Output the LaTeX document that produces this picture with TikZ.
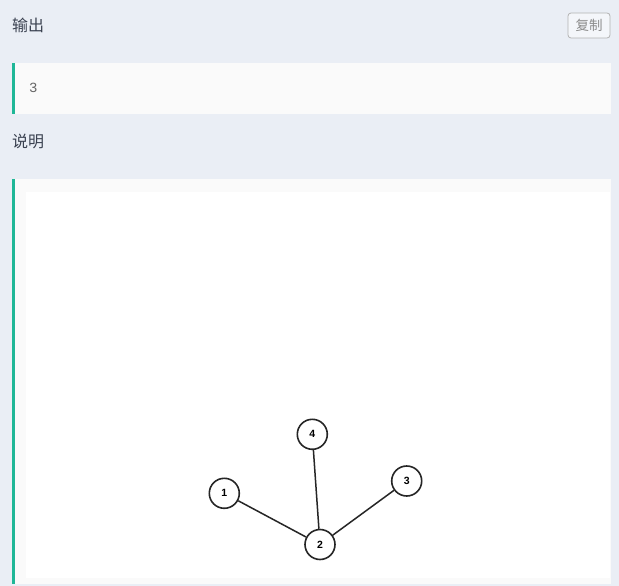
\documentclass[tikz,border=0pt]{standalone}
\usepackage{fontspec}
\setsansfont{Liberation Sans}
\setmonofont{Liberation Mono}
\newfontfamily\cjk{Noto Sans CJK SC}
\usetikzlibrary{positioning}
\definecolor{pagebg}{HTML}{EAEEF5}
\definecolor{boxbg}{HTML}{FAFAFA}
\definecolor{barcol}{HTML}{1FB797}
\definecolor{headcol}{HTML}{3A4150}
\definecolor{edgecol}{HTML}{262626}

\begin{document}
\begin{tikzpicture}[x=1pt,y=-1pt]
  \tikzstyle{heading}=[anchor=west,inner sep=0pt,text=headcol,font=\cjk\fontsize{16}{18}\selectfont]
  \tikzstyle{copybtn}=[rectangle,rounded corners=3pt,draw=black!30,fill=white!50!pagebg,line width=0.8pt,minimum width=42pt,minimum height=25pt,inner sep=0pt,text=black!45,font=\cjk\fontsize{13.5}{15}\selectfont]
  \tikzstyle{vertex}=[circle,draw=edgecol,fill=white,line width=1.6pt,minimum size=30pt,inner sep=0pt,font=\sffamily\bfseries\fontsize{10.5}{11}\selectfont]
  \tikzstyle{link}=[edgecol,line width=1.5pt]

  \useasboundingbox (0,0) rectangle (619,586);
  \fill [pagebg] (0,0) rectangle (619,586);

  % Output section.
  \node [heading] (outtitle) at (12,25) {输出};
  \node [copybtn] (copy) at (589,25.5) {复制};
  \fill [boxbg] (12,63) rectangle (611,114);
  \fill [barcol] (12,63) rectangle (15,114);
  \node [anchor=west,inner sep=0pt,text=black!60,font=\ttfamily\fontsize{14}{16}\selectfont] (outval) at (29,88) {3};

  % Explanation section.
  \node [heading] (notetitle) at (12,141) {说明};
  \fill [boxbg] (12,179) rectangle (611,584);
  \fill [barcol] (12,179) rectangle (15,584);
  \fill [white] (26,192) rectangle (610,578);

  % Tree.
  \node [vertex] (v2) at (320,544.5) {2};
  \node [vertex] (v1) at (224.3,493.3) {1};
  \node [vertex] (v4) at (312.3,434.3) {4};
  \node [vertex] (v3) at (406.7,481) {3};

  \draw [link] (v1) -- (v2);
  \draw [link] (v4) -- (v2);
  \draw [link] (v3) -- (v2);
\end{tikzpicture}
\end{document}
